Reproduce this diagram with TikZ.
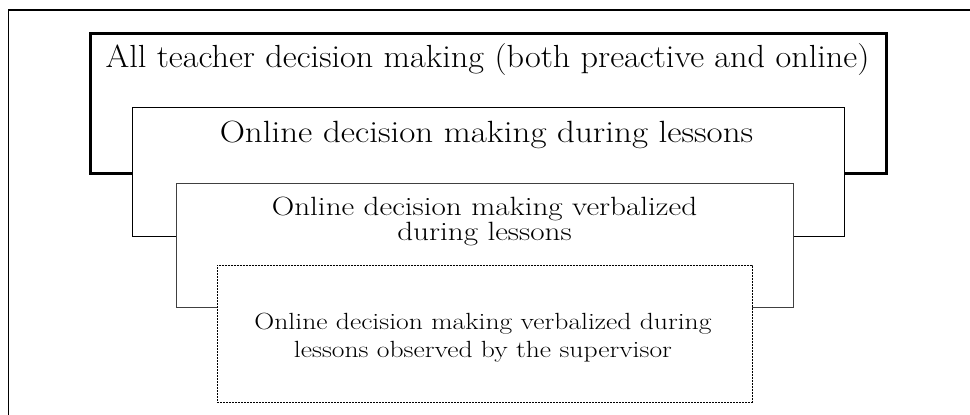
\documentclass[tikz,border=0pt]{standalone}
\usetikzlibrary{positioning}

\tikzset{
  layer/.style={draw, fill=white, inner sep=0pt, anchor=north west},
  caption/.style={align=center, inner sep=0pt, anchor=base, xscale=#1, transform shape},
  caption/.default=1.1
}

\begin{document}
\begin{tikzpicture}[x=1pt, y=-1pt]
  \useasboundingbox (0,0) rectangle (970,415);

  % outer frame (cut at the page edge)
  \draw [line width=1.2pt] (8.5,415) -- (8.5,10) -- (970,10);

  % nested layers, each one over the lower part of the one before
  \node [layer, line width=3pt, minimum width=796pt, minimum height=140pt] (all) at (89,32) {};
  \node [layer, line width=1.2pt, minimum width=712pt, minimum height=129pt] (online) at (132,107) {};
  \node [layer, draw=black!75, line width=0.9pt, minimum width=617pt, minimum height=124pt] (verbal) at (176,183) {};
  \node [layer, line width=0.7pt, dash pattern=on 2pt off 1pt, minimum width=535pt, minimum height=137pt] (observed) at (217,265) {};

  % texts (placed on the baseline of their last line)
  \node [caption=1.07, font=\fontsize{32}{34}\selectfont] (alltext) at (487.5,67) {All teacher decision making (both preactive and online)};
  \node [caption=1.14, font=\fontsize{30.7}{34}\selectfont] (onlinetext) at (486.5,142) {Online decision making during lessons};
  \node [caption=1.18, font=\fontsize{26.4}{25}\selectfont] (verbaltext) at (484.5,240) {Online decision making verbalized\\ during lessons};
  \node [caption=1.18, font=\fontsize{23.4}{28}\selectfont] (observedtext) at (483,357) {Online decision making verbalized during\\ lessons observed by the supervisor};
\end{tikzpicture}
\end{document}
